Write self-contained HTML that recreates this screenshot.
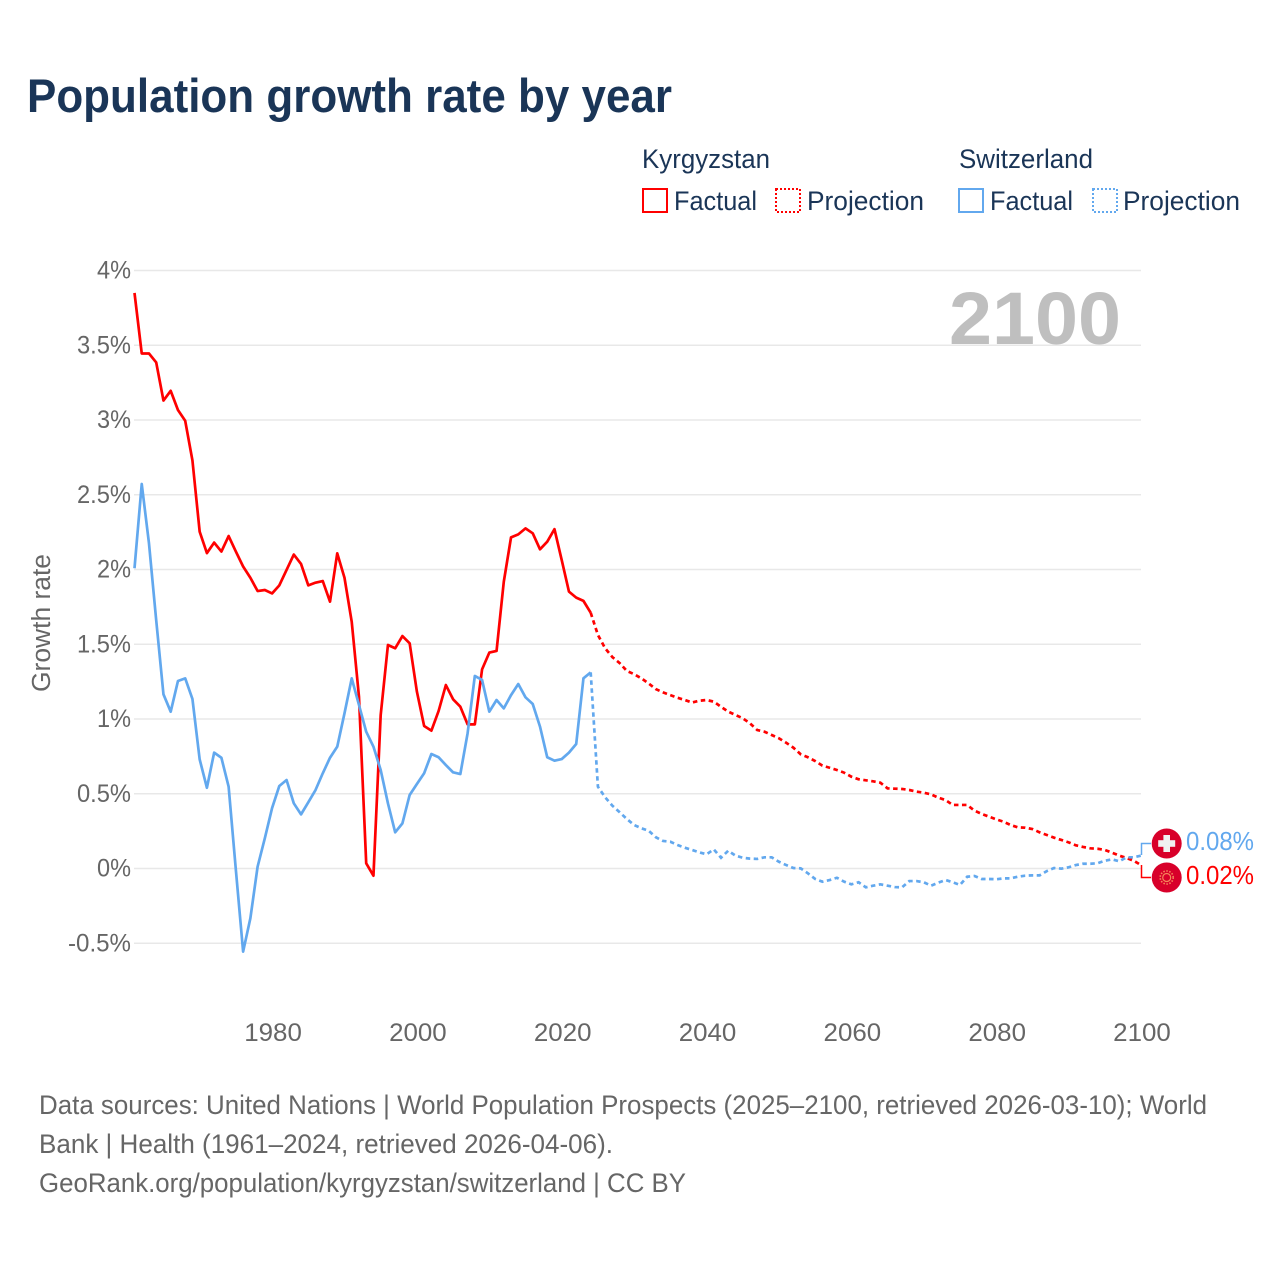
<!DOCTYPE html>
<html lang="en">
<head>
<meta charset="utf-8">
<title>Population growth rate by year</title>
<style>
html,body{margin:0;padding:0;background:#fff;}
svg{display:block;font-family:"Liberation Sans",sans-serif;}
</style>
</head>
<body>
<svg id="chart" xmlns="http://www.w3.org/2000/svg" width="1280" height="1280" viewBox="0 0 1280 1280">
  <rect width="1280" height="1280" fill="#fff"/>
  <text x="27" y="112" font-size="47" font-weight="700" fill="#1a3557" textLength="645" lengthAdjust="spacingAndGlyphs">Population growth rate by year</text>

  <g font-size="26.5" fill="#1a3557">
    <text x="642" y="168" textLength="128" lengthAdjust="spacingAndGlyphs">Kyrgyzstan</text>
    <text x="959" y="168" textLength="134" lengthAdjust="spacingAndGlyphs">Switzerland</text>
    <rect x="643" y="189" width="24" height="23" fill="none" stroke="#ff0000" stroke-width="2"/>
    <text x="674" y="210" textLength="83" lengthAdjust="spacingAndGlyphs">Factual</text>
    <rect x="776" y="189" width="24" height="23" fill="none" stroke="#ff0000" stroke-width="2" stroke-dasharray="2 2"/>
    <text x="807" y="210" textLength="117" lengthAdjust="spacingAndGlyphs">Projection</text>
    <rect x="959" y="189" width="24" height="23" fill="none" stroke="#62a8ee" stroke-width="2"/>
    <text x="990" y="210" textLength="83" lengthAdjust="spacingAndGlyphs">Factual</text>
    <rect x="1093" y="189" width="24" height="23" fill="none" stroke="#62a8ee" stroke-width="2" stroke-dasharray="2 2"/>
    <text x="1123" y="210" textLength="117" lengthAdjust="spacingAndGlyphs">Projection</text>
  </g>

  <g id="grid"></g>
  <g id="yticks"></g>
  <g id="xticks"></g>

  <text transform="translate(50,692) rotate(-90)" font-size="25.5" fill="#666" textLength="138" lengthAdjust="spacingAndGlyphs">Growth rate</text>
  <text x="949" y="344" font-size="74" font-weight="700" fill="#bfbfbf" textLength="172" lengthAdjust="spacingAndGlyphs">2100</text>

  <g id="series"></g>

  <g>
    <path d="M1141.5 855V843.5H1151" fill="none" stroke="#62a8ee" stroke-width="1.5"/>
    <path d="M1141.5 865V877.5H1151" fill="none" stroke="#ff0000" stroke-width="1.5"/>
    <g>
      <circle cx="1166.7" cy="843.5" r="15" fill="#d8002a"/>
      <rect x="1158.2" y="840.2" width="17" height="6.6" fill="#f0f0f0"/>
      <rect x="1163.4" y="835" width="6.6" height="17" fill="#f0f0f0"/>
    </g>
    <g>
      <circle cx="1166.7" cy="877.5" r="15" fill="#d8002a"/>
      <circle cx="1166.7" cy="877.5" r="4" fill="none" stroke="#f5875a" stroke-width="1.2"/>
      <circle cx="1166.7" cy="877.5" r="6.5" fill="none" stroke="#f5875a" stroke-width="1.6" stroke-dasharray="1.5 1.5"/>
    </g>
    <text x="1186" y="850" font-size="25.5" fill="#62a8ee" textLength="68" lengthAdjust="spacingAndGlyphs">0.08%</text>
    <text x="1186" y="884" font-size="25.5" fill="#ff0000" textLength="68" lengthAdjust="spacingAndGlyphs">0.02%</text>
  </g>

  <g font-size="26.5" fill="#666">
    <text x="39" y="1114" textLength="1168" lengthAdjust="spacingAndGlyphs">Data sources: United Nations | World Population Prospects (2025–2100, retrieved 2026-03-10); World</text>
    <text x="39" y="1153" textLength="574" lengthAdjust="spacingAndGlyphs">Bank | Health (1961–2024, retrieved 2026-04-06).</text>
    <text x="39" y="1192" textLength="647" lengthAdjust="spacingAndGlyphs">GeoRank.org/population/kyrgyzstan/switzerland | CC BY</text>
  </g>
</svg>
<script>
const factualStartYear = 1961;
const projectionStartYear = 2024;
const yTickValues = [4, 3.5, 3, 2.5, 2, 1.5, 1, 0.5, 0, -0.5];
const yTickLabels = ["4%", "3.5%", "3%", "2.5%", "2%", "1.5%", "1%", "0.5%", "0%", "-0.5%"];
const xTickYears = [1980, 2000, 2020, 2040, 2060, 2080, 2100];
const xTickLabels = ["1980", "2000", "2020", "2040", "2060", "2080", "2100"];

const kyrgyzstanFactual = [3.85,3.445,3.445,3.385,3.13,3.195,3.067,2.995,2.73,2.253,2.11,2.18,2.12,2.224,2.12,2.02,1.945,1.856,1.863,1.84,1.894,1.997,2.10,2.037,1.894,1.912,1.923,1.785,2.108,1.945,1.65,1.15,0.035,-0.048,1.027,1.495,1.473,1.555,1.506,1.183,0.953,0.922,1.054,1.227,1.132,1.082,0.964,0.964,1.332,1.444,1.455,1.918,2.215,2.235,2.275,2.242,2.135,2.186,2.27,2.063,1.852,1.812,1.79,1.711];
const switzerlandFactual = [2.008,2.572,2.175,1.66,1.165,1.049,1.254,1.272,1.134,0.73,0.54,0.775,0.741,0.547,-0.01,-0.556,-0.333,0.012,0.203,0.404,0.552,0.592,0.436,0.362,0.443,0.525,0.637,0.741,0.815,1.038,1.272,1.094,0.915,0.815,0.659,0.436,0.242,0.302,0.492,0.565,0.637,0.766,0.744,0.692,0.643,0.632,0.904,1.288,1.261,1.049,1.127,1.071,1.16,1.234,1.145,1.10,0.949,0.744,0.721,0.732,0.775,0.833,1.272,1.312];
const kyrgyzstanProjection = [1.711,1.562,1.473,1.414,1.374,1.321,1.30,1.272,1.238,1.20,1.178,1.16,1.142,1.127,1.11,1.122,1.127,1.116,1.082,1.049,1.027,1.005,0.971,0.926,0.915,0.893,0.871,0.841,0.808,0.764,0.744,0.719,0.688,0.674,0.659,0.641,0.614,0.597,0.59,0.583,0.574,0.536,0.534,0.532,0.525,0.514,0.507,0.496,0.474,0.458,0.425,0.425,0.425,0.387,0.365,0.347,0.329,0.313,0.291,0.275,0.273,0.264,0.242,0.224,0.206,0.191,0.175,0.155,0.144,0.135,0.132,0.124,0.106,0.086,0.07,0.052,0.023];
const switzerlandProjection = [1.312,0.547,0.476,0.42,0.376,0.331,0.291,0.269,0.253,0.209,0.184,0.179,0.157,0.139,0.124,0.108,0.095,0.128,0.072,0.119,0.086,0.072,0.066,0.064,0.075,0.075,0.045,0.023,0.003,0.001,-0.032,-0.07,-0.088,-0.077,-0.062,-0.088,-0.106,-0.092,-0.126,-0.115,-0.106,-0.115,-0.124,-0.126,-0.084,-0.084,-0.092,-0.115,-0.095,-0.077,-0.092,-0.11,-0.055,-0.05,-0.07,-0.07,-0.072,-0.066,-0.066,-0.055,-0.048,-0.046,-0.046,-0.017,0.003,-0.001,0.008,0.023,0.032,0.032,0.035,0.052,0.061,0.048,0.075,0.075,0.086];

const NS = "http://www.w3.org/2000/svg";
function xScale(year) { return 134.5 + (year - 1961) * 7.241; }
function yScale(value) { return 868.5 - value * 149.5; }
function make(parent, tag, attrs) {
  const el = document.createElementNS(NS, tag);
  for (const k in attrs) el.setAttribute(k, attrs[k]);
  parent.appendChild(el);
  return el;
}
function labelWidth(label) {
  let w = 0;
  for (const c of label) {
    if (c === "%") w += 19.6;
    else if (c === ".") w += 5.6;
    else if (c === "-") w += 9;
    else w += 14.4;
  }
  return w;
}

const gridGroup = document.getElementById("grid");
const yTickGroup = document.getElementById("yticks");
yTickValues.forEach(function (v, i) {
  const line = make(gridGroup, "line", {x1: 134, x2: 1141, y1: yScale(v), y2: yScale(v), stroke: "#e8e8e8", "stroke-width": 1.5});
  
  
  const w = labelWidth(yTickLabels[i]);
  const t = make(yTickGroup, "text", {x: 131 - w, y: yScale(v) + 8, "font-size": 25, fill: "#666", textLength: w, lengthAdjust: "spacingAndGlyphs"});
  t.textContent = yTickLabels[i];
  
  
});

const xTickGroup = document.getElementById("xticks");
xTickYears.forEach(function (yr, i) {
  const t = make(xTickGroup, "text", {x: xScale(yr) + 1 - 28.8, y: 1041, "font-size": 25, fill: "#666", textLength: 57.6, lengthAdjust: "spacingAndGlyphs"});
  t.textContent = xTickLabels[i];
  
  
});

function pointsFor(values, startYear) {
  return values.map(function (v, i) {
    return xScale(startYear + i).toFixed(2) + "," + yScale(v).toFixed(2);
  }).join(" ");
}
const seriesGroup = document.getElementById("series");

const kgFactualLine = make(seriesGroup, "polyline", {points: pointsFor(kyrgyzstanFactual, factualStartYear), fill: "none", stroke: "#ff0000", "stroke-width": 2.7, "stroke-linejoin": "round"});



const kgProjectionLine = make(seriesGroup, "polyline", {points: pointsFor(kyrgyzstanProjection, projectionStartYear), fill: "none", stroke: "#ff0000", "stroke-width": 2.7, "stroke-dasharray": "4.5 3.5"});



const chFactualLine = make(seriesGroup, "polyline", {points: pointsFor(switzerlandFactual, factualStartYear), fill: "none", stroke: "#62a8ee", "stroke-width": 2.7, "stroke-linejoin": "round"});



const chProjectionLine = make(seriesGroup, "polyline", {points: pointsFor(switzerlandProjection, projectionStartYear), fill: "none", stroke: "#62a8ee", "stroke-width": 2.7, "stroke-dasharray": "4.5 3.5"});


</script>
</body>
</html>
